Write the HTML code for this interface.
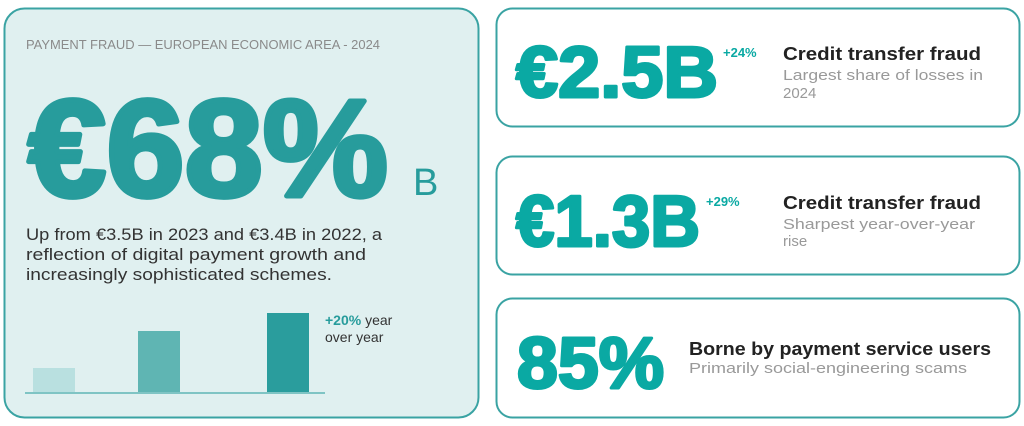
<!DOCTYPE html>
<html><head><meta charset="utf-8"><style>
html,body{margin:0;padding:0;background:#fff;}
svg{display:block;font-family:"Liberation Sans",sans-serif;}
</style></head><body>
<svg width="1024" height="426" viewBox="0 0 1024 426" xmlns="http://www.w3.org/2000/svg">
<rect x="4.5" y="8.5" width="474" height="409" rx="20" fill="#e0f0f0" stroke="#3aa3a3" stroke-width="2"/>
<text x="26" y="49" font-size="13" fill="#8a8a8a" textLength="354" lengthAdjust="spacingAndGlyphs">PAYMENT FRAUD — EUROPEAN ECONOMIC AREA - 2024</text>
<text x="28" y="196" font-size="138" font-weight="bold" fill="#279c9c" stroke="#279c9c" stroke-width="5" stroke-linejoin="round" textLength="360" lengthAdjust="spacingAndGlyphs">€68%</text>
<text x="413" y="195" font-size="38" fill="#279c9c">B</text>
<g font-size="17" fill="#333">
<text x="26" y="240" textLength="356" lengthAdjust="spacingAndGlyphs">Up from €3.5B in 2023 and €3.4B in 2022, a</text>
<text x="26" y="260" textLength="340" lengthAdjust="spacingAndGlyphs">reflection of digital payment growth and</text>
<text x="26" y="280" textLength="306" lengthAdjust="spacingAndGlyphs">increasingly sophisticated schemes.</text>
</g>
<rect x="33" y="368" width="42" height="25" fill="#b9e0e0"/>
<rect x="138" y="331" width="42" height="62" fill="#5fb5b3"/>
<rect x="267" y="313" width="42" height="80" fill="#2a9d9d"/>
<rect x="25" y="392" width="300" height="2" fill="#7fc4c4"/>
<text x="325" y="325" font-size="14" fill="#333"><tspan fill="#279c9c" font-weight="bold">+20%</tspan> year</text>
<text x="325" y="342" font-size="14" fill="#333">over year</text>

<rect x="496.5" y="8.5" width="523" height="118" rx="16" fill="#fff" stroke="#3aa3a3" stroke-width="2"/>
<text x="516" y="97" font-size="72" font-weight="bold" fill="#0aa9a3" stroke="#0aa9a3" stroke-width="3" stroke-linejoin="round" textLength="202" lengthAdjust="spacingAndGlyphs">€2.5B</text>
<text x="723" y="57" font-size="13" font-weight="bold" fill="#0aa9a3">+24%</text>
<text x="783" y="60" font-size="18" font-weight="bold" fill="#222" textLength="198" lengthAdjust="spacingAndGlyphs">Credit transfer fraud</text>
<text x="783" y="80" font-size="15" fill="#999" textLength="200" lengthAdjust="spacingAndGlyphs">Largest share of losses in</text>
<text x="783" y="98" font-size="15" fill="#999">2024</text>

<rect x="496.5" y="156.5" width="523" height="118" rx="16" fill="#fff" stroke="#3aa3a3" stroke-width="2"/>
<text x="516" y="246" font-size="72" font-weight="bold" fill="#0aa9a3" stroke="#0aa9a3" stroke-width="3" stroke-linejoin="round" textLength="184" lengthAdjust="spacingAndGlyphs">€1.3B</text>
<text x="706" y="206" font-size="13" font-weight="bold" fill="#0aa9a3">+29%</text>
<text x="783" y="209" font-size="18" font-weight="bold" fill="#222" textLength="198" lengthAdjust="spacingAndGlyphs">Credit transfer fraud</text>
<text x="783" y="229" font-size="15" fill="#999" textLength="192" lengthAdjust="spacingAndGlyphs">Sharpest year-over-year</text>
<text x="783" y="246" font-size="15" fill="#999">rise</text>

<rect x="496.5" y="298.5" width="523" height="119" rx="16" fill="#fff" stroke="#3aa3a3" stroke-width="2"/>
<text x="517" y="388" font-size="72" font-weight="bold" fill="#0aa9a3" stroke="#0aa9a3" stroke-width="3" stroke-linejoin="round" textLength="147" lengthAdjust="spacingAndGlyphs">85%</text>
<text x="689" y="355" font-size="18" font-weight="bold" fill="#222" textLength="302" lengthAdjust="spacingAndGlyphs">Borne by payment service users</text>
<text x="689" y="373" font-size="15" fill="#999" textLength="278" lengthAdjust="spacingAndGlyphs">Primarily social-engineering scams</text>
</svg>
</body></html>
